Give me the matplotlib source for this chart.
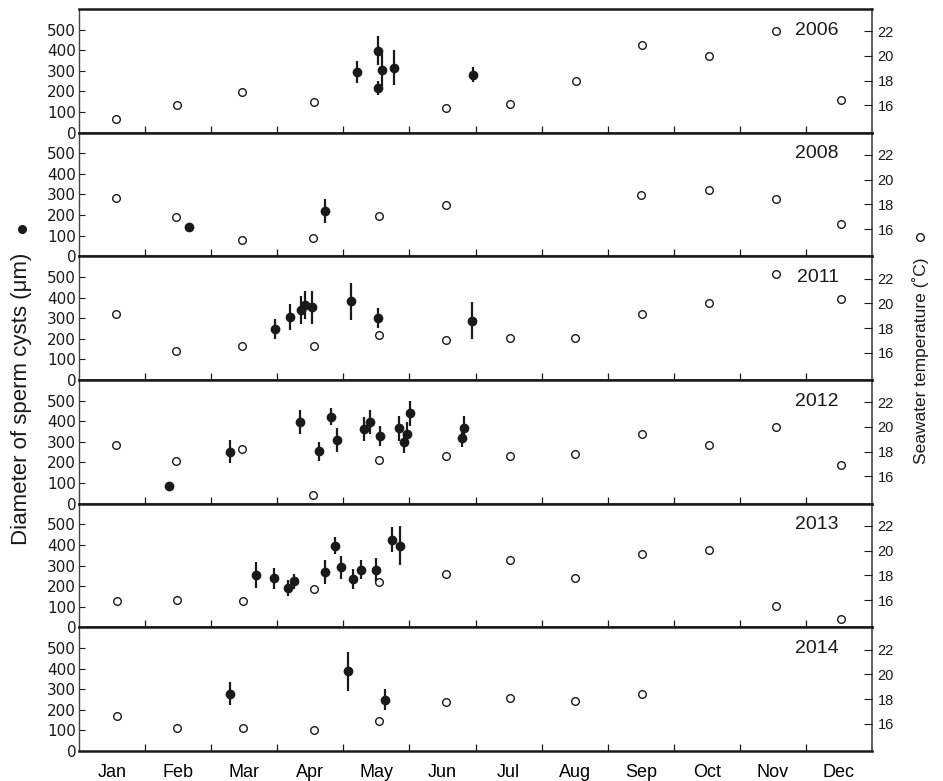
import matplotlib
matplotlib.use("Agg")
import matplotlib.pyplot as plt
from matplotlib.lines import Line2D

plt.rcParams['font.family'] = ['Liberation Sans', 'DejaVu Sans']

# =========================================================
# Data (x = month position, 0 = start of Jan, 12 = end of Dec)
# =========================================================

months = ["Jan", "Feb", "Mar", "Apr", "May", "Jun",
          "Jul", "Aug", "Sep", "Oct", "Nov", "Dec"]
years = ["2006", "2008", "2011", "2012", "2013", "2014"]

# seawater temperature (open circles, right axis)
temp_x_2006 = [0.56, 1.48, 2.47, 3.55, 5.55, 6.52, 7.52, 8.52, 9.54, 10.55, 11.53]
temp_2006 = [14.9, 16.05, 17.1, 16.25, 15.8, 16.1, 18.0, 20.87, 19.98, 22.0, 16.4]

temp_x_2008 = [0.56, 1.47, 2.47, 3.54, 4.54, 5.56, 8.51, 9.54, 10.55, 11.53]
temp_2008 = [18.5, 16.98, 15.15, 15.3, 17.08, 17.96, 18.73, 19.19, 18.41, 16.42]

temp_x_2011 = [0.56, 1.47, 2.47, 3.55, 4.54, 5.56, 6.52, 7.51, 8.52, 9.54, 10.55, 11.53]
temp_2011 = [19.17, 16.16, 16.55, 16.55, 17.45, 17.0, 17.23, 17.23, 19.13, 20.02, 22.36, 20.35]

temp_x_2012 = [0.56, 1.47, 2.47, 3.54, 4.54, 5.56, 6.52, 7.51, 8.52, 9.54, 10.55, 11.53]
temp_2012 = [18.56, 17.26, 18.19, 14.54, 17.35, 17.62, 17.62, 17.83, 19.45, 18.51, 19.97, 16.91]

temp_x_2013 = [0.57, 1.48, 2.48, 3.55, 4.54, 5.56, 6.52, 7.51, 8.52, 9.54, 10.55, 11.53]
temp_2013 = [15.89, 16.02, 15.89, 16.9, 17.43, 18.14, 19.22, 17.79, 19.69, 20.02, 15.53, 14.51]

temp_x_2014 = [0.57, 1.48, 2.48, 3.55, 4.54, 5.56, 6.52, 7.51, 8.52]
temp_2014 = [16.6, 15.67, 15.67, 15.53, 16.19, 17.77, 18.1, 17.85, 18.4]

# sperm cyst diameter (filled circles with SD, left axis)
cyst_x_2006 = [4.21, 4.53, 4.53, 4.59, 4.76, 5.96]
cyst_2006 = [294, 398, 216, 305, 316, 282]
cyst_sd_2006 = [55, 70, 35, 78, 85, 35]

cyst_x_2008 = [1.67, 3.72]
cyst_2008 = [141, 221]
cyst_sd_2008 = [20, 57]

cyst_x_2011 = [2.97, 3.19, 3.36, 3.42, 3.53, 4.12, 4.53, 5.94]
cyst_2011 = [247, 304, 338, 363, 353, 381, 302, 288]
cyst_sd_2011 = [50, 63, 68, 68, 80, 90, 48, 88]

cyst_x_2012 = [1.36, 2.28, 3.34, 3.63, 3.82, 3.90, 4.31, 4.40, 4.56, 4.84, 4.92, 4.96, 5.01, 5.79, 5.83]
cyst_2012 = [86, 252, 396, 254, 422, 309, 363, 396, 327, 365, 298, 340, 438, 320, 368]
cyst_sd_2012 = [0, 57, 60, 45, 40, 60, 58, 60, 48, 60, 50, 55, 60, 45, 55]

cyst_x_2013 = [2.68, 2.95, 3.17, 3.25, 3.72, 3.88, 3.96, 4.15, 4.26, 4.49, 4.73, 4.85]
cyst_2013 = [252, 237, 192, 223, 269, 396, 291, 234, 280, 277, 425, 396]
cyst_sd_2013 = [63, 52, 38, 38, 60, 40, 55, 48, 45, 60, 60, 95]

cyst_x_2014 = [2.28, 4.07, 4.63]
cyst_2014 = [279, 386, 249]
cyst_sd_2014 = [55, 95, 50]

temp_x = [temp_x_2006, temp_x_2008, temp_x_2011, temp_x_2012, temp_x_2013, temp_x_2014]
temps = [temp_2006, temp_2008, temp_2011, temp_2012, temp_2013, temp_2014]
cyst_x = [cyst_x_2006, cyst_x_2008, cyst_x_2011, cyst_x_2012, cyst_x_2013, cyst_x_2014]
cysts = [cyst_2006, cyst_2008, cyst_2011, cyst_2012, cyst_2013, cyst_2014]
cyst_sd = [cyst_sd_2006, cyst_sd_2008, cyst_sd_2011, cyst_sd_2012, cyst_sd_2013, cyst_sd_2014]

# =========================================================
# Figure
# =========================================================

fig, axes = plt.subplots(6, 1, figsize=(9.43, 7.81), dpi=100, sharex=True)
fig.subplots_adjust(left=0.0838, right=0.9247, top=0.9885, bottom=0.0384, hspace=0)

dark = "#1a1a1a"

for i, ax in enumerate(axes):
    ax.errorbar(cyst_x[i], cysts[i], yerr=cyst_sd[i], fmt='o', color=dark,
                markersize=6, elinewidth=1.6, capsize=0, zorder=3)

    ax.set_xlim(0, 12)
    ax.set_ylim(0, 600)
    ax.set_yticks([0, 100, 200, 300, 400, 500])
    ax.tick_params(axis='y', direction='in', length=4.5, width=0.8,
                   labelsize=11, pad=2, colors=dark)
    for lab in ax.get_yticklabels():
        lab.set_fontfamily('DejaVu Sans')

    ax.set_xticks(range(1, 12))
    ax.set_xticks([m + 0.5 for m in range(12)], minor=True)
    ax.tick_params(axis='x', which='major', direction='in', length=5,
                   width=0.9, labelbottom=False, colors=dark)
    ax.tick_params(axis='x', which='minor', length=0, labelsize=13, pad=9)
    if i == len(axes) - 1:
        ax.set_xticklabels(months, minor=True)
    else:
        ax.tick_params(axis='x', which='minor', labelbottom=False)

    for side in ['top', 'bottom']:
        ax.spines[side].set_linewidth(1.8)
        ax.spines[side].set_color(dark)
    ax.spines['left'].set_linewidth(1.0)
    ax.spines['left'].set_color("#444444")
    ax.spines['right'].set_linewidth(1.2)
    ax.spines['right'].set_color("#444444")

    tx = ax.twinx()
    tx.plot(temp_x[i], temps[i], 'o', markerfacecolor='white',
            markeredgecolor=dark, markersize=5.5, markeredgewidth=1.0, zorder=4)
    tx.set_ylim(13.8, 23.8)
    tx.set_yticks([16, 18, 20, 22])
    tx.tick_params(axis='y', direction='in', length=6, width=0.8,
                   labelsize=10.5, pad=4, colors=dark)
    for s in tx.spines.values():
        s.set_visible(False)

    ax.text(0.958, 0.83, years[i], transform=ax.transAxes, ha='right',
            va='center', fontsize=14, color=dark)

# axis titles with their symbol keys
fig.text(0.023, 0.489, "Diameter of sperm cysts (μm)", rotation=90,
         ha='center', va='center', fontsize=16, color=dark)
fig.text(0.976, 0.538, "Seawater temperature (˚C)", rotation=90,
         ha='center', va='center', fontsize=12.5, color=dark)

fig.add_artist(Line2D([0.023], [0.707], marker='o', markersize=5.5,
                      color=dark, transform=fig.transFigure))
fig.add_artist(Line2D([0.976], [0.697], marker='o', markersize=5.5,
                      markerfacecolor='white', markeredgecolor=dark,
                      markeredgewidth=1.0, transform=fig.transFigure))

plt.savefig("out.png", dpi=100)
